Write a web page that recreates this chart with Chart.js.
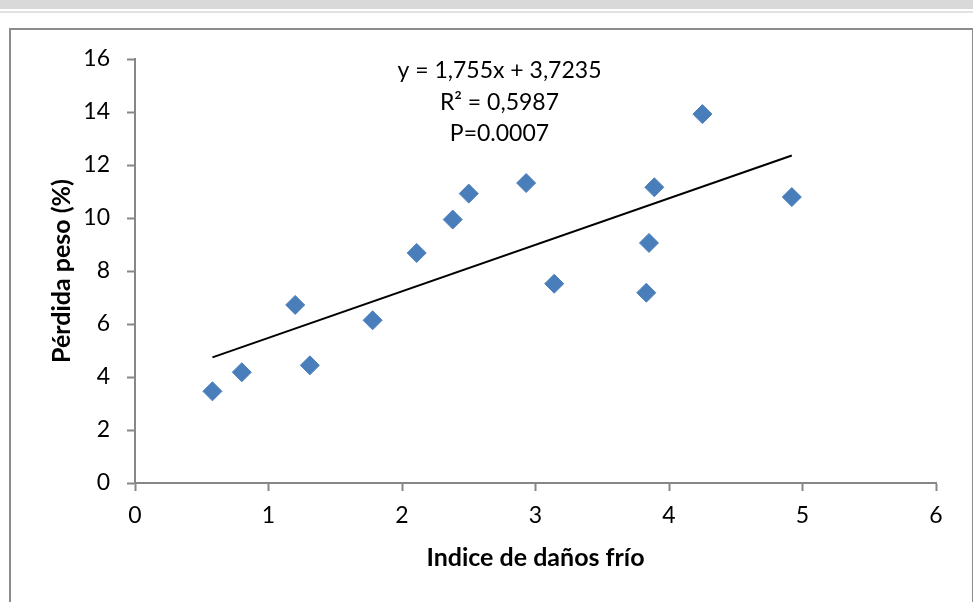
<!DOCTYPE html>
<html>
<head>
<meta charset="utf-8">
<script src="https://cdn.jsdelivr.net/npm/chart.js@4/dist/chart.umd.min.js"></script>
<style>
    html, body { margin: 0; padding: 0; background: #ffffff; overflow: hidden; }
    body { width: 973px; height: 602px; position: relative; }
    .top-band { position: absolute; left: 0; top: 0; width: 973px; height: 9px; background: #d9d9d9; }
    .top-line { position: absolute; left: 0; top: 11px; width: 973px; height: 2px; background: #e2e2e2; }
    .frame { position: absolute; left: 9px; top: 28px; width: 961px; height: 600px;
             border: 2px solid #8c8c8c; border-bottom: none; }
    #scatterChart { position: absolute; left: 0; top: 0; }
</style>
</head>
<body>
<div class="top-band"></div>
<div class="top-line"></div>
<div class="frame"></div>
<canvas id="scatterChart" width="973" height="602"></canvas>

<script>
// values
const damageIndex = [0.58, 0.80, 1.20, 1.31, 1.78, 2.11, 2.38, 2.50, 2.93, 3.14, 3.83, 3.85, 3.89, 4.25, 4.92];
const weightLoss = [3.46, 4.18, 6.72, 4.44, 6.14, 8.68, 9.94, 10.92, 11.32, 7.52, 7.18, 9.06, 11.16, 13.92, 10.79];

const trendSlope = 1.755;
const trendIntercept = 3.7235;
const trendLabels = ['y = 1,755x + 3,7235', 'R² = 0,5987', 'P=0.0007'];

const xTicks = [0, 1, 2, 3, 4, 5, 6];
const yTicks = [0, 2, 4, 6, 8, 10, 12, 14, 16];

const FONT = 'Lato, "Open Sans", sans-serif';
const AXIS_GREY = '#878787';

function buildPoints() {
    return damageIndex.map((x, i) => ({ x: x, y: weightLoss[i] }));
}

function buildTrend() {
    const minX = Math.min(...damageIndex);
    const maxX = Math.max(...damageIndex);
    return [
        { x: minX, y: trendSlope * minX + trendIntercept },
        { x: maxX, y: trendSlope * maxX + trendIntercept }
    ];
}

// equation text above the cloud, anchored in data units
const equationPlugin = {
    id: 'equation',
    afterDatasetsDraw(chart) {
        const ctx = chart.ctx;
        const cx = chart.scales.x.getPixelForValue(2.73);
        const top = chart.scales.y.getPixelForValue(15.55);
        ctx.save();
        ctx.fillStyle = '#000000';
        ctx.font = '23px ' + FONT;
        ctx.textAlign = 'center';
        ctx.textBaseline = 'middle';
        trendLabels.forEach((line, i) => {
            ctx.fillText(line, cx, top + i * 31.5);
        });
        ctx.restore();
    }
};

const ctx = document.getElementById('scatterChart').getContext('2d');
new Chart(ctx, {
    type: 'scatter',
    data: {
        datasets: [
            {
                type: 'line',
                label: 'Tendencia',
                data: buildTrend(),
                borderColor: '#000000',
                borderWidth: 2,
                pointRadius: 0,
                fill: false,
                order: 0
            },
            {
                label: 'Pérdida peso',
                data: buildPoints(),
                pointStyle: 'rectRot',
                pointRadius: 9.5,
                pointBackgroundColor: '#4a7ebb',
                pointBorderColor: '#4a7ebb',
                pointBorderWidth: 1,
                order: 1
            }
        ]
    },
    options: {
        responsive: false,
        animation: false,
        layout: { padding: { left: 0, right: 37, top: 59, bottom: 0 } },
        plugins: {
            legend: { display: false },
            tooltip: { enabled: false }
        },
        scales: {
            x: {
                type: 'linear',
                min: 0,
                max: 6,
                afterBuildTicks: (scale) => { scale.ticks = xTicks.map(v => ({ value: v })); },
                afterFit: (scale) => { scale.height = 119; },
                grid: { drawOnChartArea: false, drawTicks: true, tickLength: 8, tickWidth: 2, tickColor: AXIS_GREY },
                border: { display: true, color: AXIS_GREY, width: 2 },
                ticks: { color: '#000000', font: { family: FONT, size: 23 }, padding: 11 },
                title: {
                    display: true,
                    text: 'Indice de daños frío',
                    color: '#000000',
                    font: { family: FONT, size: 25, weight: 'bold' },
                    padding: { top: 0, bottom: 29 }
                }
            },
            y: {
                type: 'linear',
                min: 0,
                max: 16,
                afterBuildTicks: (scale) => { scale.ticks = yTicks.map(v => ({ value: v })); },
                afterFit: (scale) => { scale.width = 135; },
                grid: { drawOnChartArea: false, drawTicks: true, tickLength: 8, tickWidth: 2, tickColor: AXIS_GREY },
                border: { display: true, color: AXIS_GREY, width: 2 },
                ticks: { color: '#000000', font: { family: FONT, size: 23 }, padding: 17 },
                title: {
                    display: true,
                    text: 'Pérdida peso (%)',
                    color: '#000000',
                    font: { family: FONT, size: 25, weight: 'bold' },
                    padding: { top: 47, bottom: 0 }
                }
            }
        }
    },
    plugins: [equationPlugin]
});
</script>
</body>
</html>
